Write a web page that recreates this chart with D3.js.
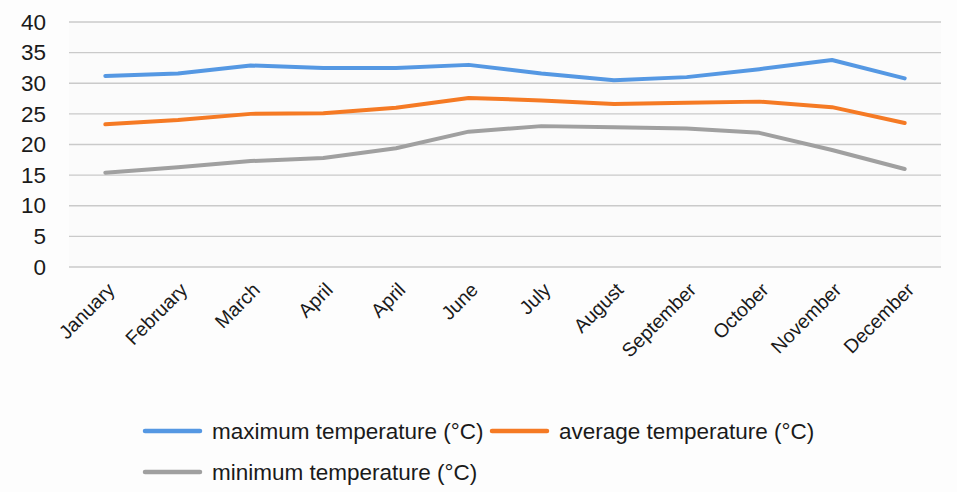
<!DOCTYPE html>
<html>
<head>
<meta charset="utf-8">
<script src="https://cdn.jsdelivr.net/npm/d3@7"></script>
<style>
  body { margin: 0; background: #fdfdfd; }
  svg { display: block; font-family: 'Liberation Sans', Arial, sans-serif; }
</style>
</head>
<body>
<div id="app"></div>
<script>
  const months = ['January', 'February', 'March', 'April', 'April', 'June', 'July',
    'August', 'September', 'October', 'November', 'December'];
  const maxTemp = [31.2, 31.6, 32.9, 32.5, 32.5, 33.0, 31.6, 30.5, 31.0, 32.3, 33.8, 30.8];
  const avgTemp = [23.3, 24.0, 25.0, 25.1, 26.0, 27.6, 27.2, 26.6, 26.8, 27.0, 26.1, 23.5];
  const minTemp = [15.4, 16.3, 17.3, 17.8, 19.4, 22.1, 23.0, 22.8, 22.6, 21.9, 19.1, 16.0];
  const yTicks = [0, 5, 10, 15, 20, 25, 30, 35, 40];

  const series = [
    { name: 'maximum temperature (°C)', values: maxTemp, color: '#5598e3' },
    { name: 'average temperature (°C)', values: avgTemp, color: '#f57a24' },
    { name: 'minimum temperature (°C)', values: minTemp, color: '#a0a0a0' },
  ];

  const containerWidth = 957;
  const containerHeight = 492;
  const margin = { top: 22, right: 16, bottom: 225, left: 69 };
  const width = containerWidth - margin.left - margin.right;
  const height = containerHeight - margin.top - margin.bottom;

  const wrapper = d3.select('#app')
    .append('svg')
    .attr('width', containerWidth)
    .attr('height', containerHeight);

  wrapper.append('rect')
    .attr('width', containerWidth)
    .attr('height', containerHeight)
    .attr('fill', '#fdfdfd');

  const bounds = wrapper.append('g')
    .attr('transform', `translate(${margin.left},${margin.top})`);

  bounds.append('rect')
    .attr('width', width)
    .attr('height', height)
    .attr('fill', '#fbfbfb');

  // scales
  const xScale = d3.scalePoint()
    .domain(d3.range(months.length))
    .range([0, width])
    .padding(0.5);
  const yScale = d3.scaleLinear()
    .domain([0, 40])
    .range([height, 0]);

  // grid
  bounds.append('g')
    .selectAll('line')
    .data(yTicks)
    .join('line')
    .attr('x1', 0)
    .attr('x2', width)
    .attr('y1', (d) => yScale(d))
    .attr('y2', (d) => yScale(d))
    .attr('stroke', '#cacaca')
    .attr('stroke-width', 1.3);

  // y axis
  const yAxis = bounds.append('g')
    .call(d3.axisLeft(yScale).tickValues(yTicks).tickSize(0).tickPadding(23));
  yAxis.select('.domain').remove();
  yAxis.selectAll('text')
    .attr('font-size', 22.5)
    .attr('fill', '#1a1a1a')
    .attr('font-family', "'Liberation Sans', Arial, sans-serif");

  // x axis
  const xAxis = bounds.append('g')
    .attr('transform', `translate(0,${height})`)
    .call(d3.axisBottom(xScale).tickSize(0).tickFormat((i) => months[i]));
  xAxis.select('.domain').remove();
  xAxis.selectAll('text')
    .attr('font-size', 19.5)
    .attr('fill', '#1a1a1a')
    .attr('font-family', "'Liberation Sans', Arial, sans-serif")
    .attr('text-anchor', 'end')
    .attr('dy', 0)
    .attr('transform', 'translate(8,22) rotate(-45)');

  // lines
  const lineGen = d3.line()
    .x((d, i) => xScale(i))
    .y((d) => yScale(d));

  bounds.append('g')
    .selectAll('path')
    .data(series)
    .join('path')
    .attr('d', (d) => lineGen(d.values))
    .attr('fill', 'none')
    .attr('stroke', (d) => d.color)
    .attr('stroke-width', 4)
    .attr('stroke-linecap', 'round')
    .attr('stroke-linejoin', 'round');

  // legend
  const legendPos = [[143, 431], [490, 431], [143, 472]];
  const legend = wrapper.append('g')
    .selectAll('g')
    .data(series)
    .join('g')
    .attr('transform', (d, i) => `translate(${legendPos[i][0]},${legendPos[i][1]})`);

  legend.append('line')
    .attr('x1', 2)
    .attr('x2', 57)
    .attr('stroke', (d) => d.color)
    .attr('stroke-width', 4.5)
    .attr('stroke-linecap', 'round');

  legend.append('text')
    .attr('x', 69)
    .attr('dy', '0.35em')
    .attr('font-size', 22.5)
    .attr('fill', '#1a1a1a')
    .text((d) => d.name);
</script>
</body>
</html>
